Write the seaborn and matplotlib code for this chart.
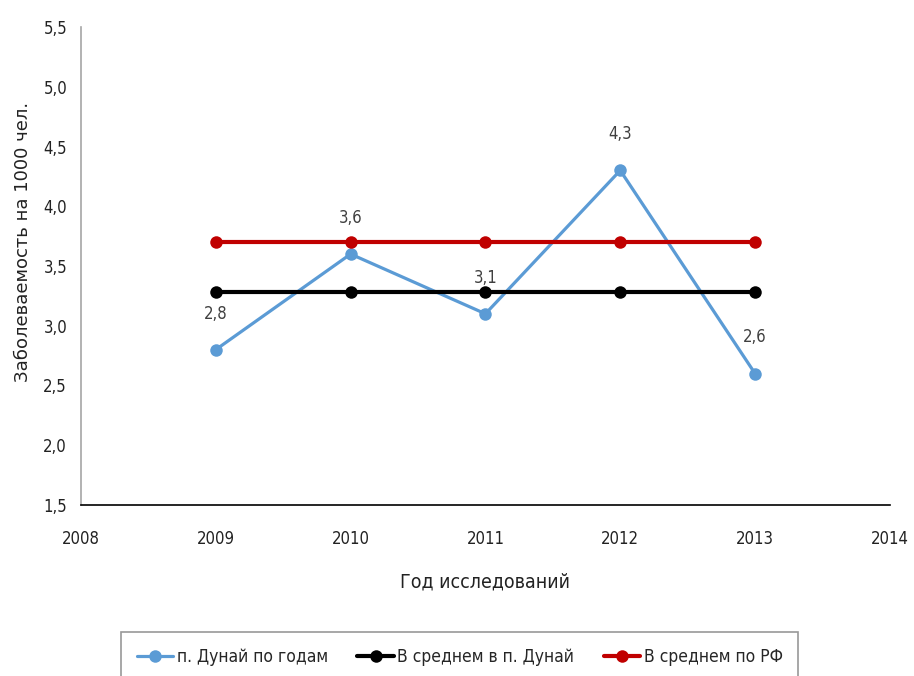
import matplotlib
matplotlib.use("Agg")
import matplotlib.pyplot as plt
import seaborn as sns
import pandas as pd
from matplotlib import font_manager

years = [2009, 2010, 2011, 2012, 2013]
dunai_by_year = [2.8, 3.6, 3.1, 4.3, 2.6]
dunai_mean = [3.28, 3.28, 3.28, 3.28, 3.28]
rf_mean = [3.7, 3.7, 3.7, 3.7, 3.7]
series_names = ["п. Дунай по годам", "В среднем в п. Дунай", "В среднем по РФ"]
series_colors = ["#5b9bd5", "#000000", "#c00000"]
y_ticks = [1.5, 2.0, 2.5, 3.0, 3.5, 4.0, 4.5, 5.0, 5.5]
x_ticks = [2008, 2009, 2010, 2011, 2012, 2013, 2014]

sns.set_theme(style="white")
fonts = font_manager.fontManager.ttflist
names = {f.name for f in fonts}
if "Liberation Sans Narrow" in names:
    narrow, stretch = "Liberation Sans Narrow", "normal"
elif any(f.name == "DejaVu Sans" and f.stretch == "condensed" for f in fonts):
    narrow, stretch = "DejaVu Sans", "condensed"
else:
    narrow, stretch = "DejaVu Sans", "normal"
plt.rcParams["font.family"] = [narrow, "DejaVu Sans"]
plt.rcParams["font.stretch"] = stretch

df = pd.DataFrame({
    "year": years * 3,
    "value": dunai_by_year + dunai_mean + rf_mean,
    "series": [series_names[0]] * 5 + [series_names[1]] * 5 + [series_names[2]] * 5,
})

fig = plt.figure(figsize=(9.14, 6.76), dpi=100)
ax = fig.add_axes([0.0886, 0.253, 0.885, 0.707])

widths = {series_names[0]: 2.3, series_names[1]: 3.0, series_names[2]: 3.0}
for name, color in zip(series_names, series_colors):
    sub = df[df["series"] == name]
    sns.lineplot(data=sub, x="year", y="value", ax=ax, color=color,
                 marker="o", markersize=9, markeredgewidth=0,
                 linewidth=widths[name], label=name, zorder=3)

# value labels for the yearly series
for x, y in zip(years, dunai_by_year):
    ax.annotate(f"{y:.1f}".replace(".", ","), (x, y), xytext=(0, 26),
                textcoords="offset points", ha="center", va="center",
                fontsize=12, color="#404040")

ax.set_xlim(2008, 2014)
ax.set_ylim(1.5, 5.5)
ax.set_xticks(x_ticks)
ax.set_xticklabels([str(t) for t in x_ticks], fontsize=12, color="#222222")
ax.set_yticks(y_ticks)
ax.set_yticklabels([f"{t:.1f}".replace(".", ",") for t in y_ticks],
                   fontsize=12, color="#222222")
ax.tick_params(axis="both", length=0, pad=10)
ax.tick_params(axis="x", pad=18)

for side in ("top", "right"):
    ax.spines[side].set_visible(False)
ax.spines["left"].set_color("#a6a6a6")
ax.spines["left"].set_linewidth(1.2)
ax.spines["bottom"].set_color("#000000")
ax.spines["bottom"].set_linewidth(1.2)

ax.set_xlabel("Год исследований", fontsize=14, color="#222222", labelpad=18)
ax.set_ylabel("Заболеваемость на 1000 чел.", fontsize=13, color="#222222",
              family="DejaVu Sans", fontstretch="normal", labelpad=10)
ax.yaxis.set_label_coords(-0.061, 0.55)

ax.get_legend().remove()
handles, labels = ax.get_legend_handles_labels()
leg = fig.legend(handles, labels, loc="upper center", ncol=3,
                 bbox_to_anchor=(0.503, 0.078), fontsize=12.5, frameon=True,
                 fancybox=False, edgecolor="#7f7f7f", borderpad=0.9,
                 columnspacing=1.7, handlelength=2.1, handletextpad=0.2)
leg.get_frame().set_linewidth(1.2)

fig.savefig("out.png", dpi=100)
